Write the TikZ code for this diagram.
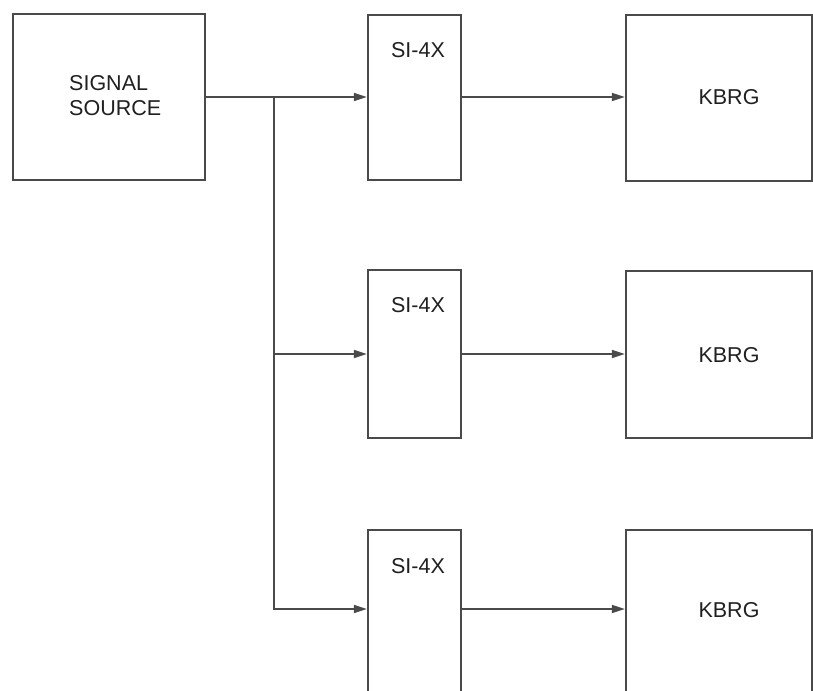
\documentclass[tikz,border=0pt]{standalone}
\usepackage{fontspec}
\setmainfont{Liberation Sans}
\usetikzlibrary{arrows.meta}
\definecolor{ink}{HTML}{4A4A4A}
\definecolor{txt}{HTML}{202020}
\begin{document}
\begin{tikzpicture}[x=1pt,y=-1pt,
  blk/.style={draw=ink,line width=2.2pt,minimum width=#1,inner sep=0pt,fill=white},
  lbl/.style={text=txt,font=\fontsize{21.5}{25}\selectfont,inner sep=0pt},
  conn/.style={draw=ink,line width=1.6pt},
  arr/.style={conn,-{Triangle[length=13pt,width=8pt]}}]
\useasboundingbox (0,0) rectangle (813,690);
\clip (0,0) rectangle (813,690);
\fill[white] (0,0) rectangle (813,690);
% boxes
\node[blk=192pt,minimum height=166pt] (src) at (109,97) {};
\node[blk=93pt,minimum height=165pt] (si1) at (414.5,97.5) {};
\node[blk=93pt,minimum height=168pt] (si2) at (414.5,354) {};
\node[blk=93pt,minimum height=180pt] (si3) at (414.5,620) {};
\node[blk=186pt,minimum height=166pt] (kb1) at (719,98) {};
\node[blk=186pt,minimum height=167pt] (kb2) at (719,354.5) {};
\node[blk=186pt,minimum height=180pt] (kb3) at (719,620) {};
% labels
\node[lbl,anchor=west,align=left] (srct) at (69,96) {SIGNAL\\SOURCE};
\node[lbl] (si1t) at (418,50) {SI-4X};
\node[lbl] (si2t) at (418,305) {SI-4X};
\node[lbl] (si3t) at (418,566) {SI-4X};
\node[lbl] (kb1t) at (729,97) {KBRG};
\node[lbl] (kb2t) at (729,355) {KBRG};
\node[lbl] (kb3t) at (729,610) {KBRG};
% connector anchors
\coordinate (r1) at (0,97);
\coordinate (r2) at (0,354);
\coordinate (r3) at (0,609);
\coordinate (j) at (274,97);
% connectors
\draw[arr] (src.east |- r1) -- (si1.west |- r1);
\draw[conn] (j) -- (j |- r2);
\draw[arr] (j |- r2) -- (si2.west |- r2);
\draw[arr] (j |- r2) |- (si3.west |- r3);
\draw[arr] (si1.east |- r1) -- (kb1.west |- r1);
\draw[arr] (si2.east |- r2) -- (kb2.west |- r2);
\draw[arr] (si3.east |- r3) -- (kb3.west |- r3);
\end{tikzpicture}
\end{document}
